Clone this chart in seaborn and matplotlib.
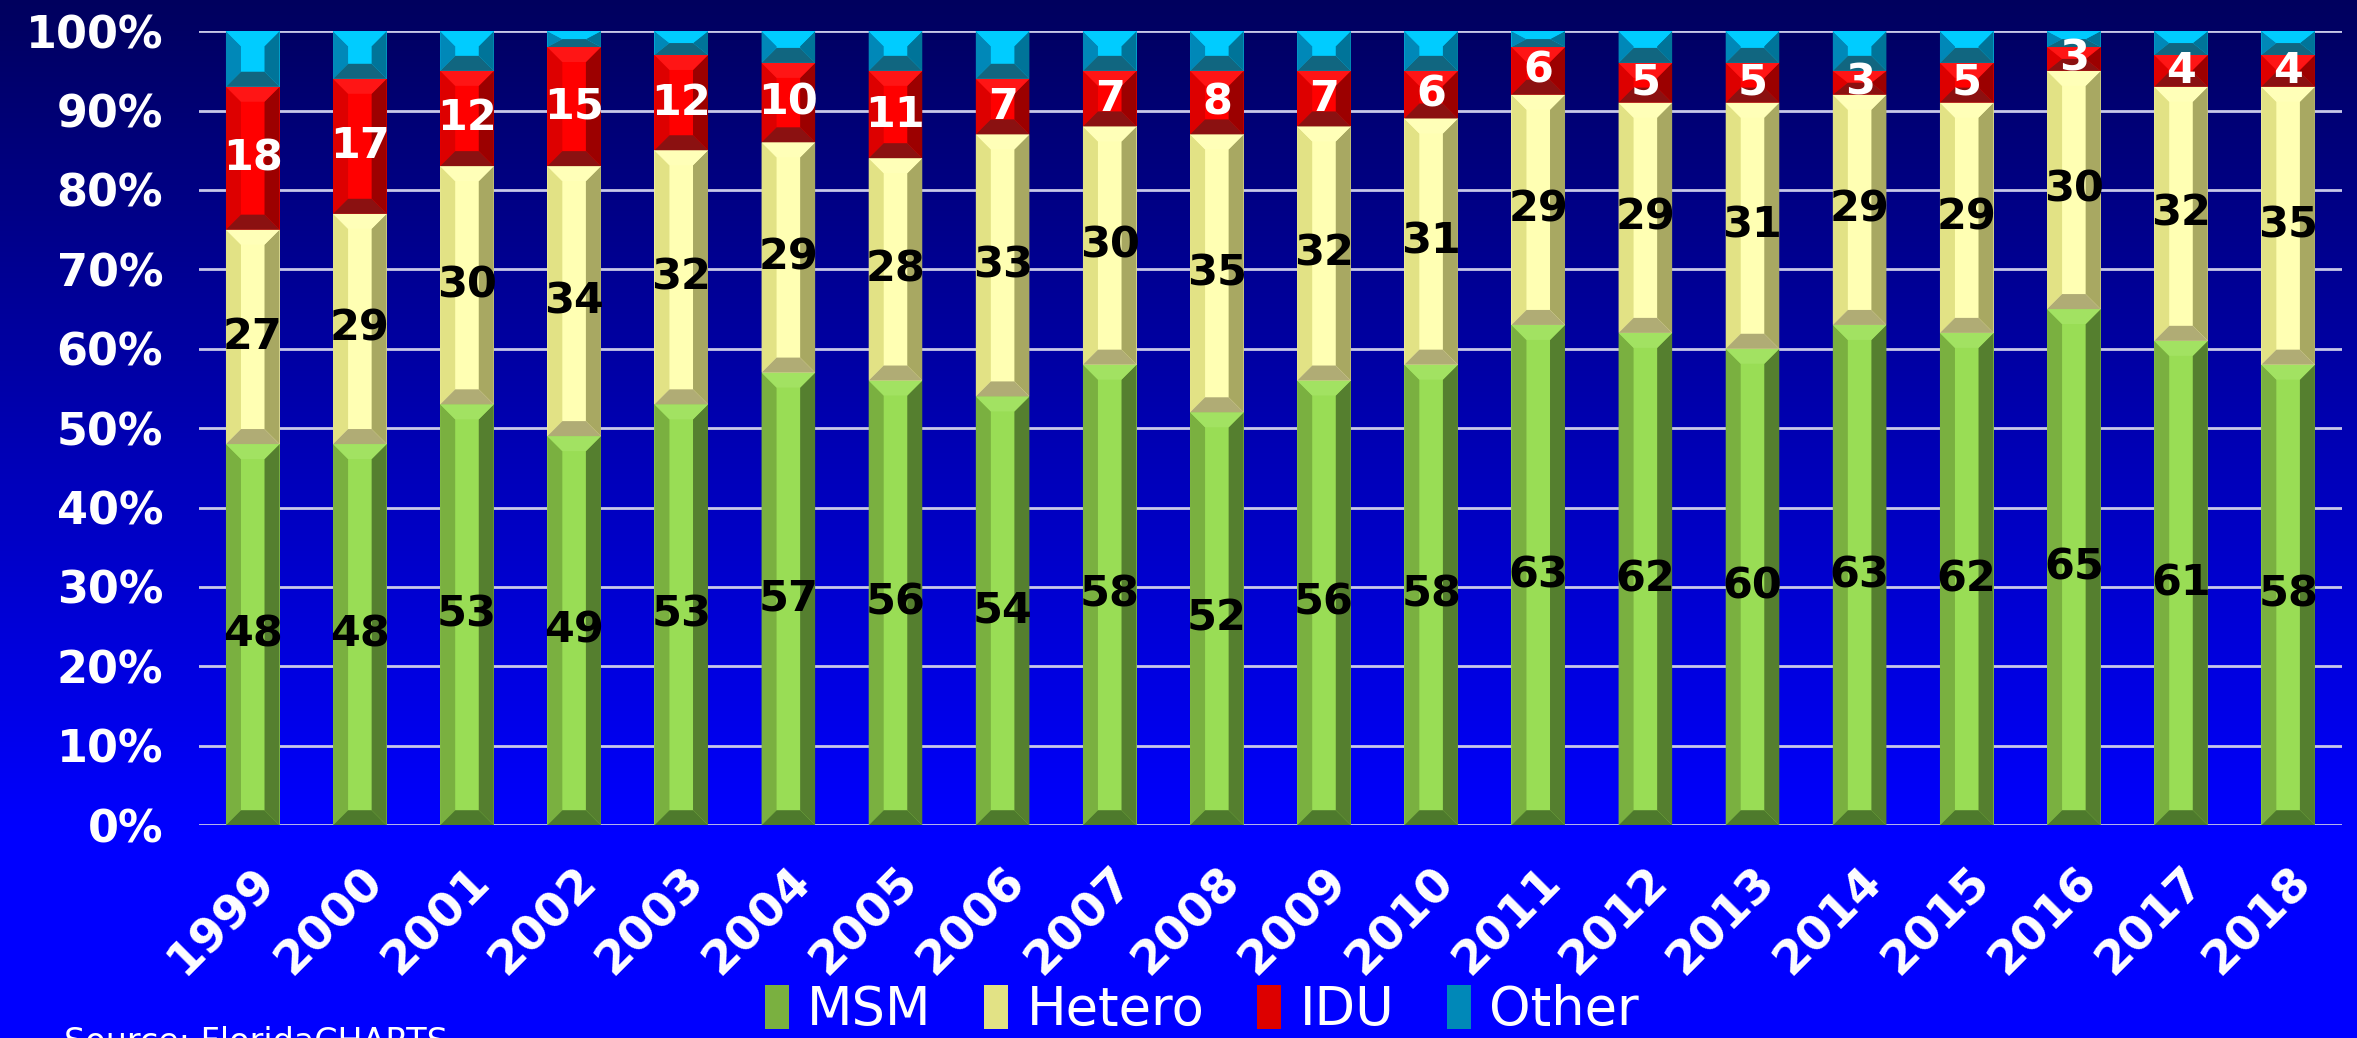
import numpy as np
import pandas as pd
import matplotlib.pyplot as plt
from matplotlib.patches import Polygon, Patch
import seaborn as sns

# Datos (porcentaje por año)
years = [str(y) for y in range(1999, 2019)]
msm = [48, 48, 53, 49, 53, 57, 56, 54, 58, 52, 56, 58, 63, 62, 60, 63, 62, 65, 61, 58]
hetero = [27, 29, 30, 34, 32, 29, 28, 33, 30, 35, 32, 31, 29, 29, 31, 29, 29, 30, 32, 35]
idu = [18, 17, 12, 15, 12, 10, 11, 7, 7, 8, 7, 6, 6, 5, 5, 3, 5, 3, 4, 4]
other = [7, 6, 5, 2, 3, 4, 5, 6, 5, 5, 5, 5, 2, 4, 4, 5, 4, 2, 3, 3]
series = ["MSM", "Hetero", "IDU", "Other"]

# colores: cara, izquierda, derecha, arriba, abajo
colors = {
    "MSM": ["#99DD55", "#7AB040", "#557F2F", "#A2E262", "#4E7A2C"],
    "Hetero": ["#FFFFB3", "#E2E285", "#A8A862", "#FFFFB8", "#B0AC75"],
    "IDU": ["#FF0000", "#DD0000", "#9C0000", "#FF1515", "#8B1111"],
    "Other": ["#00CCFF", "#0088B8", "#007499", "#00CCFF", "#116680"],
}
label_colors = {"MSM": "black", "Hetero": "black", "IDU": "white"}

df = pd.DataFrame({"year": years, "MSM": msm, "Hetero": hetero, "IDU": idu, "Other": other})
cum = df[series].cumsum(axis=1)
bottoms = cum.shift(1, axis=1).fillna(0)

fig = plt.figure(figsize=(23.57, 10.38), dpi=100)

# fondo degradado
bg = fig.add_axes([0, 0, 1, 1], zorder=-10)
t = np.linspace(0, 1, 400)
blue = 0.37 + 0.63 * np.clip(t / 0.8, 0, 1)
img = np.zeros((400, 2, 3))
img[:, :, 2] = blue[:, None]
bg.imshow(img, aspect="auto", extent=[0, 1, 0, 1])
bg.axis("off")

ax = fig.add_axes([0.0845, 0.205, 0.909, 0.765])
ax.set_facecolor("none")

# barras apiladas: de la acumulada mayor a la menor
for col in reversed(series):
    sns.barplot(x=df["year"], y=cum[col], color=colors[col][0], width=0.5,
                saturation=1, errorbar=None, linewidth=0, ax=ax, zorder=2)

ax.set_xlim(-0.5, len(years) - 0.5)
ax.set_ylim(0, 100)

# efecto biselado
fig.canvas.draw()
p0 = ax.transData.transform((0, 0))
p1 = ax.transData.transform((1, 1))
px_per_x = p1[0] - p0[0]
px_per_y = p1[1] - p0[1]

bars = ax.patches[:len(years)]
for i, bar in enumerate(bars):
    x0 = bar.get_x()
    w = bar.get_width()
    x1 = x0 + w
    dx = 0.28 * w
    for col in series:
        b = bottoms.loc[i, col]
        top = cum.loc[i, col]
        dy = min(dx * px_per_x / px_per_y, (top - b) / 2)
        c = colors[col]
        polys = [
            ([(x0, b), (x0, top), (x0 + dx, top - dy), (x0 + dx, b + dy)], c[1]),
            ([(x1, b), (x1, top), (x1 - dx, top - dy), (x1 - dx, b + dy)], c[2]),
            ([(x0, top), (x1, top), (x1 - dx, top - dy), (x0 + dx, top - dy)], c[3]),
            ([(x0, b), (x1, b), (x1 - dx, b + dy), (x0 + dx, b + dy)], c[4]),
        ]
        for pts, fc in polys:
            ax.add_patch(Polygon(pts, closed=True, facecolor=fc, edgecolor="none", zorder=3))
        if col in label_colors:
            ax.text(i, (b + top) / 2, str(df.loc[i, col]), ha="center", va="center",
                    fontsize=31, fontweight="bold", color=label_colors[col], zorder=5)

# ejes y cuadrícula
ax.set_yticks(range(0, 101, 10))
ax.set_yticklabels([f"{v}%" for v in range(0, 101, 10)], fontsize=32,
                   fontweight="bold", color="white")
ax.set_xticks(range(len(years)))
ax.set_xticklabels(years, rotation=45, ha="right", va="top", rotation_mode="anchor",
                   fontsize=34, fontweight="bold", color="white")
ax.tick_params(axis="both", length=0)
ax.tick_params(axis="y", pad=26)
ax.tick_params(axis="x", pad=24)
ax.set_xlabel("")
ax.set_ylabel("")
ax.yaxis.grid(True, color="#C8C8E8", linewidth=2, zorder=0)
ax.set_axisbelow(True)
for s in ax.spines.values():
    s.set_visible(False)

# leyenda
handles = [Patch(facecolor=colors[c][1], edgecolor="none") for c in series]
fig.legend(handles, series, loc="center", bbox_to_anchor=(0.51, 0.027), ncol=4,
           frameon=False, fontsize=38, labelcolor="white", handlelength=0.45,
           handleheight=0.9, handletextpad=0.35, columnspacing=1.0)

fig.text(0.027, 0.012, "Source: FloridaCHARTS", ha="left", va="top",
         fontsize=24, color="white")

fig.savefig("out.png", dpi=100)
